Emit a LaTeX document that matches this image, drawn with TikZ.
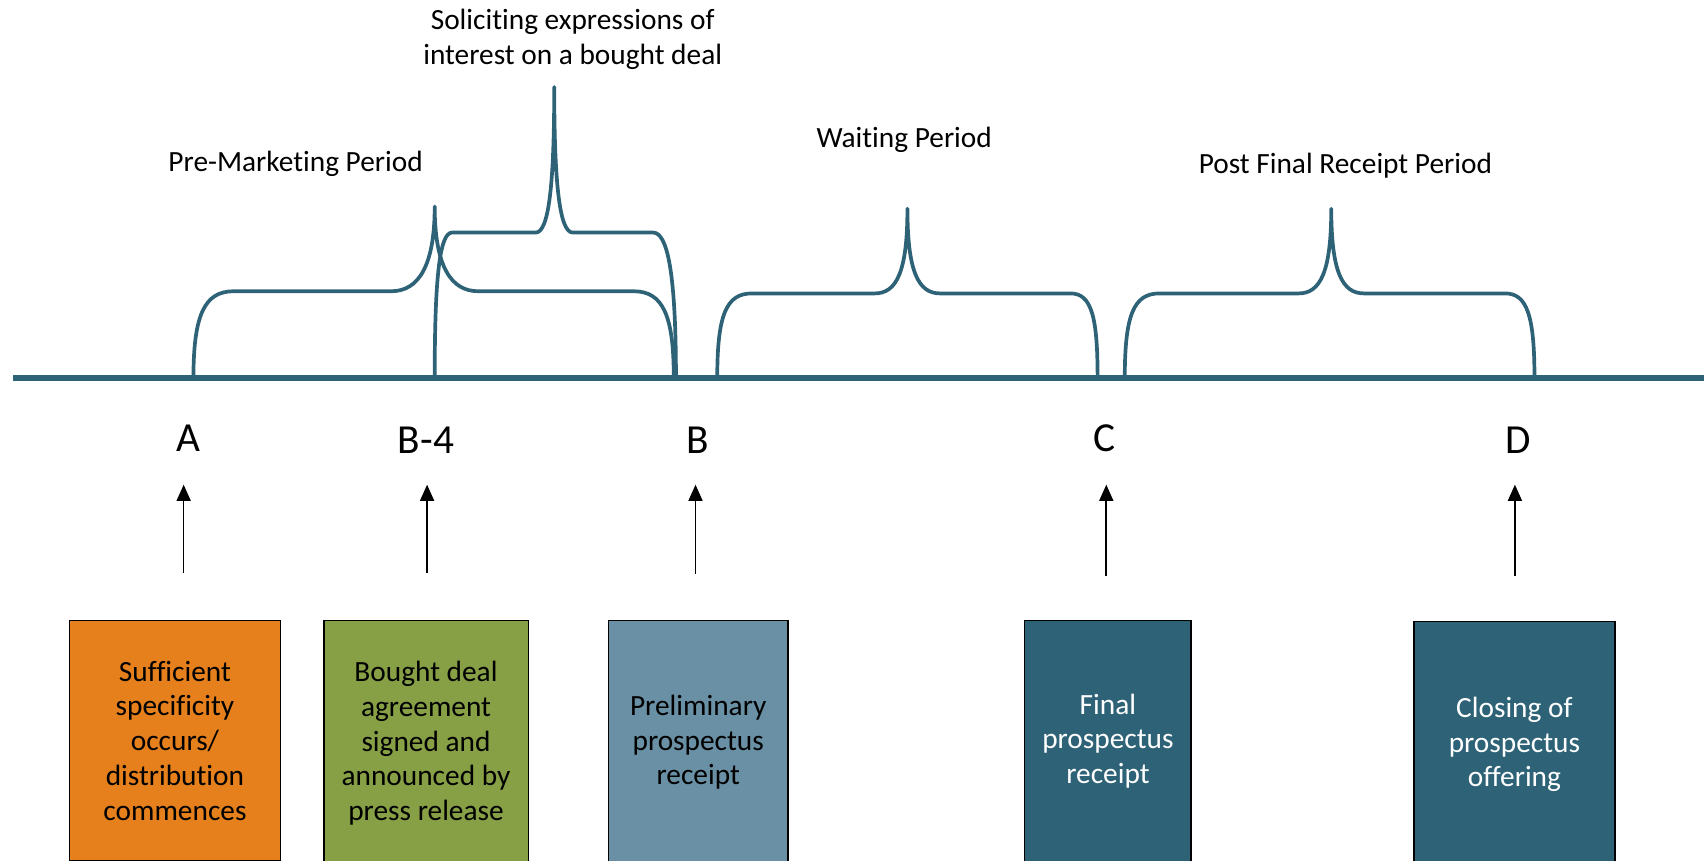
\documentclass[tikz,border=0pt]{standalone}
\usepackage{fontspec}
\setmainfont{Carlito}[RawFeature=-liga]
\usetikzlibrary{arrows.meta}
\definecolor{dkteal}{HTML}{2E6377}
\definecolor{boxorange}{HTML}{E5801C}
\definecolor{boxgreen}{HTML}{87A046}
\definecolor{boxblue}{HTML}{6990A4}
\tikzset{
  brace/.style={draw=dkteal, line width=3.4pt, line join=round, line cap=round},
  axisline/.style={draw=dkteal, line width=5pt},
  lbl/.style={font=\fontsize{27}{32}\selectfont, align=center, inner sep=0pt},
  letter/.style={font=\fontsize{38}{44}\selectfont, inner sep=0pt},
  evbox/.style={draw=black, line width=1.2pt, inner sep=0pt,
    font=\fontsize{27}{32}\selectfont, align=center},
  uparrow/.style={draw=black, line width=1.5pt, -{Triangle[length=15pt,width=13pt]}}
}
\begin{document}
\begin{tikzpicture}[x=1pt,y=-1pt]
\useasboundingbox (0,0) rectangle (1568,792);
\clip (0,0) rectangle (1568,792);

% axis
\coordinate (axL) at (12,348);
\coordinate (axR) at (1570,348);
\draw[axisline] (axL) -- (axR);

% braces
\draw[brace] (178,348) .. controls (178,290) and (188,268) .. (215,268)
  -- (360,268) .. controls (385,268) and (400,245) .. (400,190)
  .. controls (400,245) and (415,268) .. (440,268)
  -- (583,268) .. controls (610,268) and (620,290) .. (620,348);
\draw[brace] (400,348) .. controls (400,260) and (404,214) .. (416,214)
  -- (493,214) .. controls (505,214) and (510,170) .. (510,80)
  .. controls (510,170) and (515,214) .. (527,214)
  -- (601,214) .. controls (614,214) and (622,250) .. (622,348);
\draw[brace] (660,348) .. controls (660,290) and (668,270) .. (692,270)
  -- (805,270) .. controls (825,270) and (835,250) .. (835,192)
  .. controls (835,250) and (845,270) .. (865,270)
  -- (985,270) .. controls (1004,270) and (1010,290) .. (1010,348);
\draw[brace] (1035,348) .. controls (1035,290) and (1043,270) .. (1067,270)
  -- (1195,270) .. controls (1215,270) and (1225,250) .. (1225,192)
  .. controls (1225,250) and (1235,270) .. (1255,270)
  -- (1385,270) .. controls (1405,270) and (1412,290) .. (1412,348);

% period labels
\node[lbl] (soli) at (527,36) {Soliciting expressions of\\interest on a bought deal};
\node[lbl] (pre) at (272,151) {Pre-Marketing Period};
\node[lbl] (wait) at (832,129) {Waiting Period};
\node[lbl] (post) at (1238,152) {Post Final Receipt Period};

% letters
\node[letter] (A) at (173,403) {A};
\node[letter] (B4) at (392,405) {B-4};
\node[letter] (B) at (642,405) {B};
\node[letter] (C) at (1016,403) {C};
\node[letter] (D) at (1397,405) {D};

% boxes
\node[evbox, fill=boxorange, minimum width=194pt, minimum height=221pt] (bA) at (161,681.5)
  {Sufficient\\specificity\\occurs/\\distribution\\commences};
\node[evbox, fill=boxgreen, minimum width=188pt, minimum height=226pt] (bB4) at (392,684)
  {Bought deal\\agreement\\signed and\\announced by\\press release};
\node[evbox, fill=boxblue, minimum width=165pt, minimum height=224pt] (bB) at (642.5,683)
  {Preliminary\\prospectus\\receipt};
\node[evbox, fill=dkteal, text=white, minimum width=153pt, minimum height=222pt] (bC) at (1019.5,682)
  {Final\\prospectus\\receipt};
\node[evbox, fill=dkteal, text=white, minimum width=185pt, minimum height=226pt] (bD) at (1393.5,685)
  {Closing of\\prospectus\\offering};

% arrows
\coordinate (aA0) at (169,527);  \coordinate (aA1) at (169,446);
\coordinate (aB40) at (393,527); \coordinate (aB41) at (393,446);
\coordinate (aB0) at (640,528);  \coordinate (aB1) at (640,446);
\coordinate (aC0) at (1018,530); \coordinate (aC1) at (1018,446);
\coordinate (aD0) at (1394,530); \coordinate (aD1) at (1394,446);
\draw[uparrow] (aA0) -- (aA1);
\draw[uparrow] (aB40) -- (aB41);
\draw[uparrow] (aB0) -- (aB1);
\draw[uparrow] (aC0) -- (aC1);
\draw[uparrow] (aD0) -- (aD1);
\end{tikzpicture}
\end{document}
